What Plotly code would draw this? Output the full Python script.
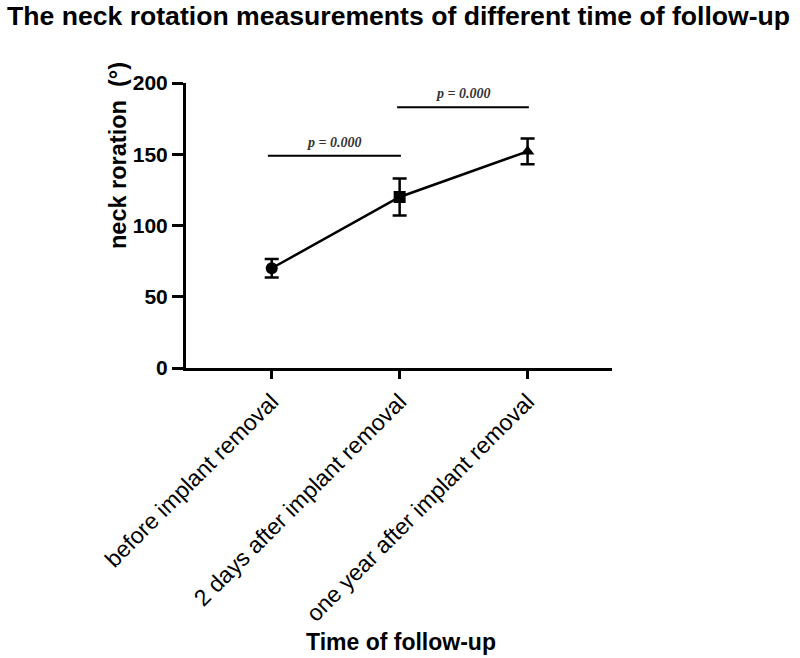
import plotly.graph_objects as go

categories = ["before implant removal", "2 days after implant removal", "one year after implant removal"]
means = [70, 120, 152]
errors = [6.5, 13, 9]
symbols = ["circle", "square", "triangle-up"]

# significance brackets: (x start, x end, y level, label)
sig_x0 = [-0.03, 0.98]
sig_x1 = [1.01, 2.01]
sig_y = [149, 183]
sig_labels = ["p = 0.000", "p = 0.000"]

xs = list(range(len(categories)))

W, H = 800, 658
L, R, T, B = 186, W - 612, 83, H - 368
PW, PH = W - L - R, H - T - B


def px_x(p):
    return (p - L) / PW


def px_y(p):
    return 1 - (p - T) / PH


fig = go.Figure()
fig.add_trace(go.Scatter(
    x=xs, y=means, mode="lines+markers",
    line=dict(color="black", width=2.5),
    marker=dict(symbol=symbols, size=12, color="black"),
    error_y=dict(type="data", array=errors, visible=True, color="black", thickness=2.5, width=7),
    showlegend=False,
))

for x0, x1, y, lab in zip(sig_x0, sig_x1, sig_y, sig_labels):
    fig.add_shape(type="line", x0=x0, x1=x1, y0=y, y1=y, xref="x", yref="y",
                  line=dict(color="black", width=2))
    fig.add_annotation(x=(x0 + x1) / 2, y=y, xref="x", yref="y", text="<b><i>" + lab + "</i></b>",
                       showarrow=False, yanchor="bottom", yshift=4,
                       font=dict(family="Liberation Serif", size=14, color="#333333"))

# chart title
fig.add_annotation(x=px_x(5), y=px_y(16), xref="paper", yref="paper",
                   text="<b>The neck rotation measurements of different time of follow-up</b>",
                   showarrow=False, xanchor="left", yanchor="middle",
                   font=dict(family="Liberation Sans", size=26.6, color="black"))
# y-axis title
fig.add_annotation(x=px_x(118), y=px_y(156), xref="paper", yref="paper",
                   text="<b>neck roration  (°)</b>",
                   showarrow=False, textangle=-90, xanchor="center", yanchor="middle",
                   font=dict(family="Liberation Sans", size=23.5, color="black"))
# x-axis title
fig.add_annotation(x=px_x(401), y=px_y(642), xref="paper", yref="paper",
                   text="<b>Time of follow-up</b>",
                   showarrow=False, xanchor="center", yanchor="middle",
                   font=dict(family="Liberation Sans", size=23, color="black"))

fig.update_layout(
    width=W, height=H,
    margin=dict(l=L, r=R, t=T, b=B, autoexpand=False),
    paper_bgcolor="white", plot_bgcolor="white",
    xaxis=dict(
        range=[-0.67, 2.66], tickmode="array", tickvals=xs, ticktext=categories,
        tickangle=-45, showline=True, linecolor="black", linewidth=3,
        ticks="outside", ticklen=8, tickwidth=3, tickcolor="black",
        showgrid=False, zeroline=False,
        tickfont=dict(family="Liberation Sans", size=23, color="black"),
    ),
    yaxis=dict(
        range=[0, 200], tickvals=[0, 50, 100, 150, 200],
        showline=True, linecolor="black", linewidth=3,
        ticks="outside", ticklen=11, tickwidth=3, tickcolor="black",
        showgrid=False, zeroline=False,
        tickfont=dict(family="Liberation Sans", size=21, color="black", weight="bold"),
    ),
)

fig.write_html("out.html", config={"displayModeBar": False},
               post_script="document.body.style.margin='0px';")
